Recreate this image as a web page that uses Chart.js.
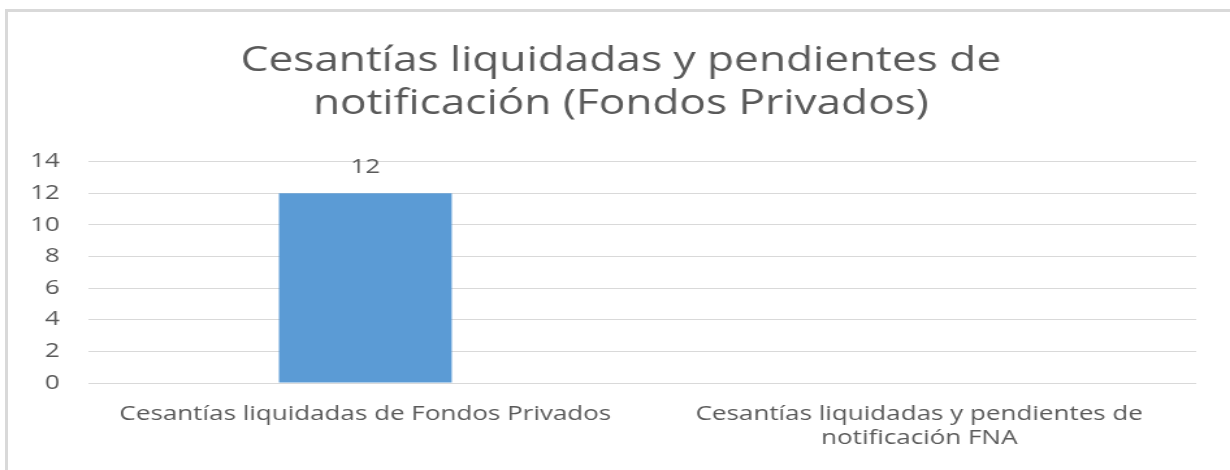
<!DOCTYPE html>
<html>
<head>
<meta charset="utf-8">
<script src="https://cdn.jsdelivr.net/npm/chart.js@4"></script>
<style>
  html, body { margin: 0; padding: 0; background: #fff; }
  .frame {
    position: absolute; left: 0; top: 0; width: 1230px; height: 470px; overflow: hidden;
  }
  .frame::before {
    content: ''; position: absolute; left: 5px; top: 9px; right: -10px; bottom: -10px;
    border-left: 3px solid #d9d9d9; border-top: 3px solid #d9d9d9;
  }
  /* the original picture is stretched sideways, so is this one */
  #chart {
    position: absolute; left: 0; top: 0;
    transform: scaleX(1.3002); transform-origin: 0 0;
  }
</style>
</head>
<body>
<div class="frame">
  <canvas id="chart" width="946" height="470"></canvas>
</div>
<script>
// chart data
const categories = [
  'Cesantías liquidadas de Fondos Privados',
  ['Cesantías liquidadas y pendientes de', 'notificación FNA']
];
const values = [12, null];
const yTicks = [0, 2, 4, 6, 8, 10, 12, 14];
const titleLines = ['Cesantías liquidadas y pendientes de', 'notificación (Fondos Privados)'];

const textColor = '#595959';
const fontFamily = '"Open Sans", sans-serif';

// draws the value above each bar
const valueLabels = {
  id: 'valueLabels',
  afterDatasetsDraw(chart) {
    const ctx = chart.ctx;
    const meta = chart.getDatasetMeta(0);
    ctx.save();
    ctx.fillStyle = textColor;
    ctx.font = '20px ' + fontFamily;
    ctx.textAlign = 'center';
    ctx.textBaseline = 'middle';
    meta.data.forEach((bar, i) => {
      const v = values[i];
      if (v === null || v === undefined) return;
      ctx.fillText(String(v), bar.x, bar.y - 26);
    });
    ctx.restore();
  }
};

const ctx = document.getElementById('chart').getContext('2d');
const chart = new Chart(ctx, {
  type: 'bar',
  data: {
    labels: categories,
    datasets: [{
      data: values,
      backgroundColor: '#5b9bd5',
      borderWidth: 0,
      barPercentage: 0.52,
      categoryPercentage: 0.6
    }]
  },
  options: {
    responsive: false,
    animation: false,
    layout: { padding: { left: 9, right: 0, top: 0, bottom: 0 } },
    scales: {
      x: {
        grid: { display: false, drawTicks: false },
        border: { display: false },
        ticks: {
          color: textColor,
          font: { family: fontFamily, size: 20 },
          padding: 19,
          maxRotation: 0,
          autoSkip: false
        },
        afterFit(scale) { scale.height = 87; }
      },
      y: {
        min: 0,
        max: 14,
        afterBuildTicks(scale) { scale.ticks = yTicks.map(v => ({ value: v })); },
        grid: { color: '#d9d9d9', lineWidth: 1, drawTicks: false },
        border: { display: false },
        ticks: {
          color: textColor,
          font: { family: fontFamily, size: 20 },
          padding: 22
        },
        afterFit(scale) { scale.width = 59; }
      },
      // empty strip on the right, keeps the plot off the edge
      yRight: {
        position: 'right',
        grid: { display: false, drawTicks: false },
        border: { display: false },
        ticks: { display: false },
        afterFit(scale) { scale.width = 26; }
      }
    },
    plugins: {
      legend: { display: false },
      tooltip: { enabled: false },
      title: {
        display: true,
        text: titleLines,
        color: textColor,
        font: { family: fontFamily, size: 34, weight: 'normal', lineHeight: 1.26 },
        padding: { top: 40, bottom: 36 }
      }
    }
  },
  plugins: [valueLabels]
});
</script>
</body>
</html>
